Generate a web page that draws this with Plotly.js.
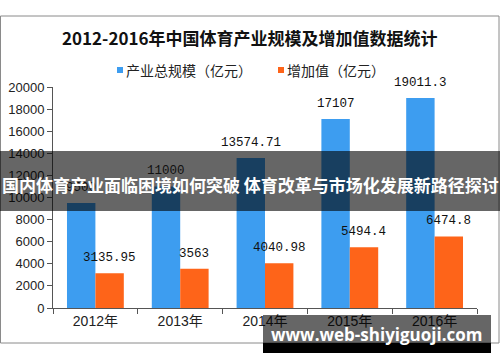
<!DOCTYPE html>
<html>
<head>
<meta charset="utf-8">
<script src="https://cdn.plot.ly/plotly-3.0.1.min.js"></script>
<style>
  html, body { margin: 0; padding: 0; background: #ffffff; }
  #chart { width: 500px; height: 362px; }
</style>
</head>
<body>
<div id="chart"></div>
<script>
// ---- data ----
var categories = ["2012年", "2013年", "2014年", "2015年", "2016年"];
var totalScale = [9500, 11000, 13574.71, 17107, 19011.3];
var addedValue = [3135.95, 3563, 4040.98, 5494.4, 6474.8];
var seriesNames = ["产业总规模（亿元）", "增加值（亿元）"];
var yTicks = [0, 2000, 4000, 6000, 8000, 10000, 12000, 14000, 16000, 18000, 20000];
var titleText = "2012-2016年中国体育产业规模及增加值数据统计";
var bannerText = "国内体育产业面临困境如何突破 体育改革与市场化发展新路径探讨";
var urlText = "www.web-shiyiguoji.com";

// ---- layout geometry (pixels) ----
var W = 500, H = 362;
var PL = 53, PR = 477, PT = 87, PB = 308;
function px(x) { return (x - PL) / (PR - PL); }
function py(y) { return (PB - y) / (PB - PT); }

var blue = "#3d9df0", orange = "#fe6419";
var cjk = "'Noto Sans CJK SC', 'Noto Sans', sans-serif";
var mono = "'Liberation Mono', 'DejaVu Sans Mono', monospace";

var traces = [
  { type: "bar", name: seriesNames[0], x: categories, y: totalScale,
    marker: { color: blue }, hoverinfo: "skip" },
  { type: "bar", name: seriesNames[1], x: categories, y: addedValue,
    marker: { color: orange }, hoverinfo: "skip" }
];

var annotations = [];
// data labels
[totalScale, addedValue].forEach(function (arr, si) {
  arr.forEach(function (v, i) {
    annotations.push({
      x: categories[i], y: v, xref: "x", yref: "y",
      text: String(v), showarrow: false,
      xshift: si === 0 ? -14 : 14, yshift: 15,
      yanchor: "middle", xanchor: "center",
      font: { family: mono, size: 12.5, color: "#111" }
    });
  });
});

// manual legend
var shapes = [];
var legendItems = [
  { sq: 117, tx: 124, color: blue, name: seriesNames[0] },
  { sq: 278, tx: 285, color: orange, name: seriesNames[1] }
];
legendItems.forEach(function (it) {
  shapes.push({ type: "rect", xref: "paper", yref: "paper",
    x0: px(it.sq), x1: px(it.sq + 6), y0: py(67), y1: py(73),
    fillcolor: it.color, line: { width: 0 } });
  annotations.push({ xref: "paper", yref: "paper", x: px(it.tx), y: py(70),
    xanchor: "left", yanchor: "middle", showarrow: false, text: it.name,
    font: { family: cjk, size: 14, color: "#222" } });
});

// outer border
shapes.push({ type: "rect", xref: "paper", yref: "paper", layer: "below",
  x0: px(0.5), x1: px(499), y0: py(16), y1: py(343),
  line: { color: "#8a8a8a", width: 1 }, fillcolor: "rgba(0,0,0,0)" });

// banner overlay
shapes.push({ type: "rect", xref: "paper", yref: "paper", layer: "above",
  x0: px(0), x1: px(500), y0: py(151), y1: py(211),
  fillcolor: "rgba(0,0,0,0.6)", line: { width: 0 } });
annotations.push({ xref: "paper", yref: "paper", x: px(250), y: py(184),
  xanchor: "center", yanchor: "middle", showarrow: false, text: "<b>" + bannerText + "</b>",
  font: { family: cjk, size: 17, color: "#ffffff" } });

// url band
shapes.push({ type: "rect", xref: "paper", yref: "paper", layer: "above",
  x0: px(263), x1: px(491), y0: py(315), y1: py(343),
  fillcolor: "rgba(0,0,0,0.6)", line: { width: 0 } });
shapes.push({ type: "rect", xref: "paper", yref: "paper", layer: "above",
  x0: px(263), x1: px(491), y0: py(343), y1: py(353),
  fillcolor: "#000000", line: { width: 0 } });
annotations.push({ xref: "paper", yref: "paper", x: px(376), y: py(334),
  xanchor: "center", yanchor: "middle", showarrow: false, text: "<b>" + urlText + "</b>",
  font: { family: "'Open Sans', 'Noto Sans', sans-serif", size: 17, color: "#ffffff" } });

// title
annotations.push({ xref: "paper", yref: "paper", x: px(250), y: py(38),
  xanchor: "center", yanchor: "middle", showarrow: false, text: "<b>" + titleText + "</b>",
  font: { family: cjk, size: 17, color: "#111" } });

var layout = {
  width: W, height: H,
  margin: { l: PL, r: W - PR, t: PT, b: H - PB, pad: 0 },
  paper_bgcolor: "#ffffff", plot_bgcolor: "#ffffff",
  showlegend: false,
  barmode: "group", bargap: 0.33, bargroupgap: 0,
  xaxis: {
    type: "category", range: [-0.5, 4.5], showgrid: false, zeroline: false,
    showline: true, linecolor: "#555", linewidth: 1,
    ticks: "outside", tickson: "boundaries", ticklen: 5, tickcolor: "#555",
    tickfont: { family: "'Liberation Sans', 'Noto Sans CJK SC', sans-serif", size: 14, color: "#222" },
    fixedrange: true
  },
  yaxis: {
    range: [0, 20000], tickvals: yTicks, ticktext: yTicks.map(String),
    showgrid: false, zeroline: false,
    showline: true, linecolor: "#555", linewidth: 1,
    ticks: "outside", ticklen: 5, tickcolor: "#555",
    tickfont: { family: "'Liberation Sans', Arial, sans-serif", size: 13, color: "#222" },
    fixedrange: true
  },
  shapes: shapes,
  annotations: annotations
};

Plotly.newPlot("chart", traces, layout, { staticPlot: true, displayModeBar: false });
</script>
</body>
</html>
